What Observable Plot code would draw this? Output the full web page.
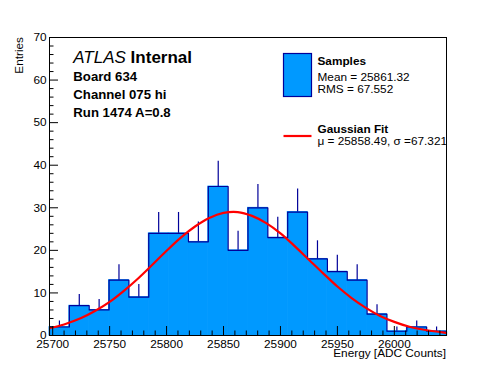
<!DOCTYPE html>
<html><head><meta charset="utf-8">
<script src="https://cdn.jsdelivr.net/npm/d3@7"></script>
<script src="https://cdn.jsdelivr.net/npm/@observablehq/plot@0.6"></script>
<style>
body{margin:0;background:#fff;}
#chart{width:496px;height:372px;}
</style>
</head><body><div id="chart"></div>
<script>
// ---- data ----
const xRange = [25697.2, 26045.8];
const yRange = [0, 70];
const counts = [2, 7, 6, 13, 9, 24, 24, 22, 35, 20, 30, 23, 29, 18, 15, 13, 5, 1, 2, 1];
const errors = [1.41, 2.65, 2.45, 3.61, 3.00, 4.90, 4.90, 4.69, 5.92, 4.47, 5.48, 4.80, 5.39, 4.24, 3.87, 3.61, 2.24, 1.00, 1.41, 1.00];
const fitX = [25697, 25710, 25725, 25737.5, 25750, 25762.5, 25775, 25787.5, 25800, 25812.5, 25825, 25837.5, 25850, 25862.5, 25875, 25887.5, 25900, 25912.5, 25925, 25937.5, 25950, 25962.5, 25975, 25987.5, 26000, 26012.5, 26025, 26045];
const fitY = [1.7, 2.6, 4.1, 5.8, 7.9, 10.5, 13.4, 16.6, 19.9, 23.0, 25.6, 27.6, 28.8, 29.0, 28.1, 26.4, 24.0, 21.0, 17.8, 14.6, 11.5, 8.8, 6.5, 4.6, 3.2, 2.1, 1.4, 0.6];
const xMajorTicks = [25700, 25750, 25800, 25850, 25900, 25950, 26000];
const xMinorTicks = d3.range(25700, 26046, 10).filter(v => v % 50 !== 0);
const yMajorTicks = [0, 10, 20, 30, 40, 50, 60, 70];
const yMinorTicks = d3.range(0, 71, 2).filter(v => v % 10 !== 0);
const yTitle = "Entries";
const xTitle = "Energy [ADC Counts]";
const atlasLabel = ["ATLAS", "Internal"];
const infoLines = ["Board 634", "Channel 075 hi", "Run 1474 A=0.8"];
const legendSamples = ["Samples", "Mean = 25861.32", "RMS = 67.552"];
const legendFit = ["Gaussian Fit", "\u03bc = 25858.49, \u03c3 =67.321"];

// ---- derived tables ----
const binWidth = (xRange[1] - xRange[0]) / counts.length;
const bins = counts.map((c, i) => ({x1: xRange[0] + i * binWidth, x2: xRange[0] + (i + 1) * binWidth, c, e: errors[i]}));
const outline = [{x: xRange[0], y: 0}, ...bins.map(b => ({x: b.x1, y: b.c})), {x: xRange[1], y: counts[counts.length - 1]}, {x: xRange[1], y: 0}];
const fit = fitX.map((x, i) => ({x, y: fitY[i]}));

const W = 496, H = 372, mL = 49, mR = 50, mT = 37, mB = 37;
const fw = W - mL - mR, fh = H - mT - mB;
const FONT = "'Liberation Sans', Arial, Helvetica, sans-serif";
const FILL = "#0099ff", NAVY = "#000099";

const svg = Plot.plot({
  width: W, height: H,
  marginLeft: mL, marginRight: mR, marginTop: mT, marginBottom: mB,
  style: {fontFamily: FONT, fontSize: "11.8px", background: "white", color: "black"},
  x: {domain: xRange},
  y: {domain: yRange},
  marks: [
    Plot.rect(bins, {x1: "x1", x2: "x2", y1: 0, y2: "c", fill: FILL, stroke: FILL, strokeWidth: 0.8}),
    Plot.line(outline, {x: "x", y: "y", curve: "step-after", stroke: NAVY, strokeWidth: 1.2}),
    Plot.ruleX(bins, {x: d => (d.x1 + d.x2) / 2, y1: "c", y2: d => d.c + d.e, stroke: NAVY, strokeWidth: 1.2}),
    Plot.line(fit, {x: "x", y: "y", curve: "catmull-rom", stroke: "#ff0000", strokeWidth: 2.2, clip: true}),
    Plot.tickX(xMajorTicks, {x: d => d, insetTop: fh - 9, stroke: "black"}),
    Plot.tickX(xMinorTicks, {x: d => d, insetTop: fh - 4.5, stroke: "black"}),
    Plot.tickY(yMajorTicks, {y: d => d, insetRight: fw - 9, stroke: "black"}),
    Plot.tickY(yMinorTicks, {y: d => d, insetRight: fw - 4.5, stroke: "black"}),
    Plot.axisX({ticks: xMajorTicks, tickSize: 0, tickPadding: 4, tickFormat: d => String(d), label: null}),
    Plot.axisY({ticks: yMajorTicks, tickSize: 0, tickPadding: 3, tickFormat: d => String(d), label: null}),
    Plot.frame({stroke: "black", strokeWidth: 1})
  ]
});
document.getElementById("chart").appendChild(svg);

// ---- annotations ----
const s = d3.select(svg);
const g = s.append("g").attr("font-family", FONT).attr("fill", "black").attr("text-anchor", "start");
// axis titles
g.append("text").attr("x", 446).attr("y", 356.5).attr("text-anchor", "end").attr("font-size", "11.8px").text(xTitle);
g.append("text").attr("transform", "translate(22.5,37) rotate(-90)").attr("text-anchor", "end").attr("font-size", "11.8px").text(yTitle);
// ATLAS label
const t = g.append("text").attr("x", 73.3).attr("y", 63.3).attr("font-size", "17px");
t.append("tspan").attr("font-style", "italic").text(atlasLabel[0]);
t.append("tspan").attr("font-weight", "bold").text(" " + atlasLabel[1]);
const infoY = [81, 99, 117.3];
infoLines.forEach((line, i) => {
  g.append("text").attr("x", 73.3).attr("y", infoY[i]).attr("font-size", "13.2px").attr("font-weight", "bold").text(line);
});
// legend
g.append("rect").attr("x", 283.5).attr("y", 53.5).attr("width", 28).attr("height", 43).attr("fill", FILL).attr("stroke", NAVY).attr("stroke-width", 1.2);
g.append("text").attr("x", 317.5).attr("y", 65.3).attr("font-size", "11.8px").attr("font-weight", "bold").text(legendSamples[0]);
g.append("text").attr("x", 317.5).attr("y", 80.7).attr("font-size", "11.8px").text(legendSamples[1]);
g.append("text").attr("x", 317.5).attr("y", 93.3).attr("font-size", "11.8px").text(legendSamples[2]);
g.append("line").attr("x1", 283.5).attr("x2", 311.5).attr("y1", 136).attr("y2", 136).attr("stroke", "#ff0000").attr("stroke-width", 2.2);
g.append("text").attr("x", 317.5).attr("y", 132.7).attr("font-size", "11.8px").attr("font-weight", "bold").text(legendFit[0]);
g.append("text").attr("x", 317.5).attr("y", 144.5).attr("font-size", "11.8px").text(legendFit[1]);
</script>
</body></html>
